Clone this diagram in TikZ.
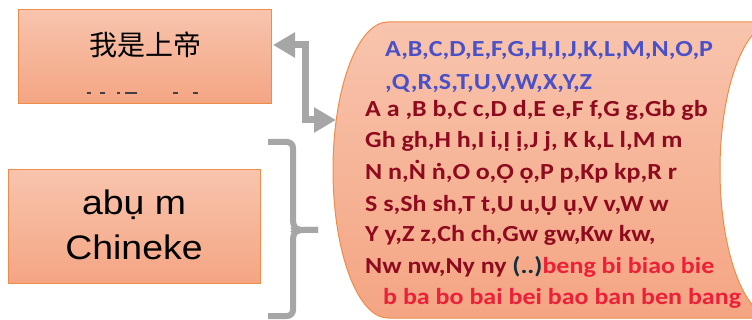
\documentclass[tikz,border=0pt]{standalone}
\usepackage{fontspec}
\setmainfont{Liberation Sans}
\newfontfamily\widesans{Liberation Sans}[FakeStretch=1.1]
\newfontfamily\cjk{Noto Sans CJK SC}
\newfontfamily\calib{Carlito}[FakeStretch=1.13]
\usetikzlibrary{arrows.meta}
\definecolor{boxtop}{HTML}{F8C4AD}
\definecolor{boxbot}{HTML}{F4A583}
\definecolor{boxline}{HTML}{F08C4A}
\definecolor{conn}{HTML}{A6A6A6}
\definecolor{blueL}{HTML}{4A50C8}
\definecolor{dred}{HTML}{8E0B1F}
\definecolor{bred}{HTML}{EC2038}
\definecolor{dk}{HTML}{10303F}
\definecolor{mark}{HTML}{404040}
\begin{document}
\begin{tikzpicture}[x=1pt,y=-1pt,
  box/.style={draw=boxline, line width=1pt, top color=boxtop, bottom color=boxbot, inner sep=0pt},
  conn/.style={draw=conn, line width=7pt},
  wtxt/.style={anchor=base west, inner sep=0pt, font=\calib\bfseries\fontsize{23}{26}\selectfont},
  marks/.style={draw=mark, line width=1.5pt}]
\useasboundingbox (0,0) rectangle (752,320);

% wave shape
\shade[top color=boxtop, bottom color=boxbot, draw=boxline, line width=1pt]
  (388,22) -- (775,22) arc[start angle=-90, end angle=-270, x radius=55, y radius=148]
  -- (388,318) arc[start angle=90, end angle=270, x radius=55, y radius=148] -- cycle;

% boxes
\node[box, minimum width=253pt, minimum height=94pt] (b1) at (144.5,57) {};
\node[inner sep=0pt, font=\cjk\fontsize{28}{30}\selectfont] (t1) at (145,45) {我是上帝};
\draw[marks] (87,93) -- (91,93) (100,93) -- (105,93) (117,93) -- (120,93) (125,93) -- (137,93)
  (173,93) -- (178,93) (193,93) -- (198,93);

\node[box, minimum width=252pt, minimum height=114pt] (b2) at (134,227) {};
\node[anchor=base, inner sep=0pt, font=\widesans\fontsize{34}{40}\selectfont] (t2) at (134,215) {abụ m};
\node[anchor=base, inner sep=0pt, font=\widesans\fontsize{34}{40}\selectfont] (t3) at (134,260) {Chineke};

% elbow double arrow
\coordinate (a1) at (273,45);
\coordinate (a2) at (336,120);
\draw[conn, {Triangle[length=22pt,width=24pt]}-{Triangle[length=22pt,width=24pt]}]
  (a1) -- (305,45) -- (305,120) -- (a2);

% brace
\coordinate (br1) at (268,142);
\coordinate (br2) at (268,316);
\coordinate (brt) at (318,230);
\draw[conn, line width=6pt, rounded corners=6pt]
  (br1) -- (293,142) -- (293,227) -- (297,230) -- (brt);
\draw[conn, line width=6pt, rounded corners=6pt]
  (br2) -- (293,316) -- (293,233) -- (297,230) -- (brt);

% wave text
\node[wtxt, text=blueL] (l0) at (385,57) {A,B,C,D,E,F,G,H,I,J,K,L,M,N,O,P};
\node[wtxt, text=blueL] (l00) at (385,90) {,Q,R,S,T,U,V,W,X,Y,Z};
\node[wtxt, text=dred] (l1) at (365,117) {A a ,B b,C c,D d,E e,F f,G g,Gb gb};
\node[wtxt, text=dred] (l2) at (365,148) {Gh gh,H h,I i,Ị ị,J j, K k,L l,M m};
\node[wtxt, text=dred] (l3) at (365,180) {N n,Ṅ ṅ,O o,Ọ ọ,P p,Kp kp,R r};
\node[wtxt, text=dred] (l4) at (365,212) {S s,Sh sh,T t,U u,Ụ ụ,V v,W w};
\node[wtxt, text=dred] (l5) at (365,242) {Y y,Z z,Ch ch,Gw gw,Kw kw,};
\node[wtxt, text=dred] (l6) at (365,274) {Nw nw,Ny ny \textcolor{dk}{(..)}\textcolor{bred}{beng bi biao bie}};
\node[wtxt, text=bred] (l7) at (383,305) {b ba bo bai bei bao ban ben bang};
\end{tikzpicture}
\end{document}
